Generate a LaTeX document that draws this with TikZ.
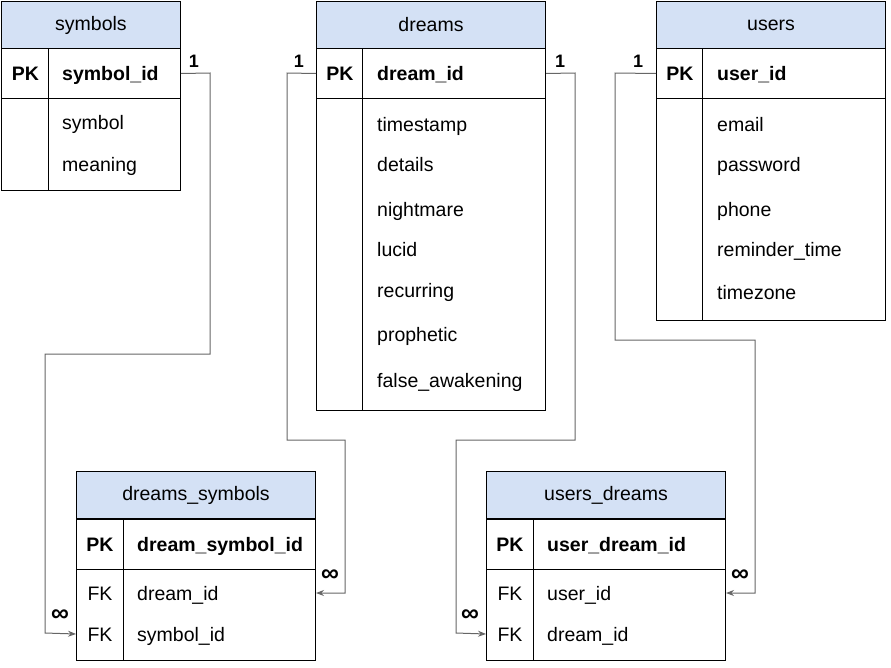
\documentclass[tikz,border=0pt]{standalone}
\usepackage{fontspec}
\setmainfont{Liberation Sans}
\usetikzlibrary{arrows.meta}
\definecolor{headblue}{HTML}{D4E1F5}
\definecolor{linkgray}{HTML}{666666}
\newcommand{\tblsize}{\fontsize{19.5}{23}\selectfont}
\tikzset{
        % Table parts
        tblhead/.style={draw=black, fill=headblue, anchor=north west, inner sep=0pt, minimum height=47pt, line width=1pt, font=\tblsize},
        tblrow/.style={draw=black, anchor=north west, inner sep=0pt, line width=1pt},
        % Texts in the tables
        keycell/.style={font=\tblsize\bfseries, text height=16pt, text depth=2pt, inner sep=0pt},
        fkcell/.style={keycell, font=\tblsize},
        fieldname/.style={anchor=west, font=\tblsize, text height=16pt, text depth=2pt, inner sep=0pt},
        pkname/.style={fieldname, font=\tblsize\bfseries},
        % Relations
        link/.style={draw=linkgray, line width=1pt, -{Stealth[length=8pt,width=6pt]}},
        card/.style={font=\fontsize{18}{20}\selectfont\bfseries, inner sep=0pt},
        cardmany/.style={card, font=\fontsize{25}{26}\selectfont\bfseries}
}

\begin{document}
\begin{tikzpicture}[x=1pt, y=-1pt]
    \useasboundingbox (0,0) rectangle (891,667);

    % symbols
    \node[tblhead, minimum width=179pt] (sym_head) at (1,1) {symbols};
    \node[tblrow, minimum width=179pt, minimum height=50pt] (sym_pk) at (1,48) {};
    \node[tblrow, minimum width=179pt, minimum height=92pt] (sym_body) at (1,98) {};
    \draw[line width=1pt] (48,48) -- (48,190);
    \node[keycell] (sym_pkkey) at (25.5,73) {PK};
    \node[pkname] (sym_id) at (62,73) {symbol\_id};
    \node[fieldname] (sym_symbol) at (62,122) {symbol};
    \node[fieldname] (sym_meaning) at (62,164) {meaning};

    % dreams
    \node[tblhead, minimum width=229pt] (dr_head) at (316,1) {dreams};
    \node[tblrow, minimum width=229pt, minimum height=50pt] (dr_pk) at (316,48) {};
    \node[tblrow, minimum width=229pt, minimum height=312pt] (dr_body) at (316,98) {};
    \draw[line width=1pt] (362,48) -- (362,410);
    \node[keycell] (dr_pkkey) at (340,73) {PK};
    \node[pkname] (dr_id) at (377,73) {dream\_id};
    \node[fieldname] (dr_timestamp) at (377,124) {timestamp};
    \node[fieldname] (dr_details) at (377,164) {details};
    \node[fieldname] (dr_nightmare) at (377,209) {nightmare};
    \node[fieldname] (dr_lucid) at (377,249) {lucid};
    \node[fieldname] (dr_recurring) at (377,290) {recurring};
    \node[fieldname] (dr_prophetic) at (377,334) {prophetic};
    \node[fieldname] (dr_false) at (377,380) {false\_awakening};

    % users
    \node[tblhead, minimum width=229pt] (us_head) at (656,1) {users};
    \node[tblrow, minimum width=229pt, minimum height=50pt] (us_pk) at (656,48) {};
    \node[tblrow, minimum width=229pt, minimum height=222pt] (us_body) at (656,98) {};
    \draw[line width=1pt] (702,48) -- (702,320);
    \node[keycell] (us_pkkey) at (680,73) {PK};
    \node[pkname] (us_id) at (717,73) {user\_id};
    \node[fieldname] (us_email) at (717,124) {email};
    \node[fieldname] (us_password) at (717,164) {password};
    \node[fieldname] (us_phone) at (717,209) {phone};
    \node[fieldname] (us_reminder) at (717,249) {reminder\_time};
    \node[fieldname] (us_timezone) at (717,292) {timezone};

    % dreams_symbols
    \node[tblhead, minimum width=239pt] (ds_head) at (76,471) {dreams\_symbols};
    \node[tblrow, minimum width=239pt, minimum height=50pt] (ds_pk) at (76,519) {};
    \node[tblrow, minimum width=239pt, minimum height=91pt] (ds_body) at (76,569) {};
    \draw[line width=1pt] (123,519) -- (123,660);
    \node[keycell] (ds_pkkey) at (100,544) {PK};
    \node[pkname] (ds_id) at (137,544) {dream\_symbol\_id};
    \node[fkcell] (ds_fk1) at (100,593) {FK};
    \node[fieldname] (ds_dream) at (137,593) {dream\_id};
    \node[fkcell] (ds_fk2) at (100,634) {FK};
    \node[fieldname] (ds_symbol) at (137,634) {symbol\_id};

    % users_dreams
    \node[tblhead, minimum width=239pt] (ud_head) at (486,471) {users\_dreams};
    \node[tblrow, minimum width=239pt, minimum height=50pt] (ud_pk) at (486,519) {};
    \node[tblrow, minimum width=239pt, minimum height=91pt] (ud_body) at (486,569) {};
    \draw[line width=1pt] (533,519) -- (533,660);
    \node[keycell] (ud_pkkey) at (510,544) {PK};
    \node[pkname] (ud_id) at (547,544) {user\_dream\_id};
    \node[fkcell] (ud_fk1) at (510,593) {FK};
    \node[fieldname] (ud_user) at (547,593) {user\_id};
    \node[fkcell] (ud_fk2) at (510,634) {FK};
    \node[fieldname] (ud_dream) at (547,634) {dream\_id};

    % relations
    \draw[link] (sym_pk.east) -- (210,73) -- (210,354) -- (45,354) -- (45,633) -- (ds_fk2 -| ds_body.west);
    \draw[link] (dr_pk.west) -- (287,73) -- (287,440) -- (345,440) -- (345,593) -- (ds_fk1 -| ds_body.east);
    \draw[link] (dr_pk.east) -- (575,73) -- (575,440) -- (456,440) -- (456,633) -- (ud_fk2 -| ud_body.west);
    \draw[link] (us_pk.west) -- (615,73) -- (615,340) -- (755,340) -- (755,593) -- (ud_fk1 -| ud_body.east);

    % cardinalities
    \node[card] (c1a) at (194,61) {1};
    \node[cardmany] (c1b) at (60,616) {∞};
    \node[card] (c2a) at (299,61) {1};
    \node[cardmany] (c2b) at (330,576) {∞};
    \node[card] (c3a) at (560,61) {1};
    \node[cardmany] (c3b) at (470,616) {∞};
    \node[card] (c4a) at (638,61) {1};
    \node[cardmany] (c4b) at (740,576) {∞};
\end{tikzpicture}
\end{document}
